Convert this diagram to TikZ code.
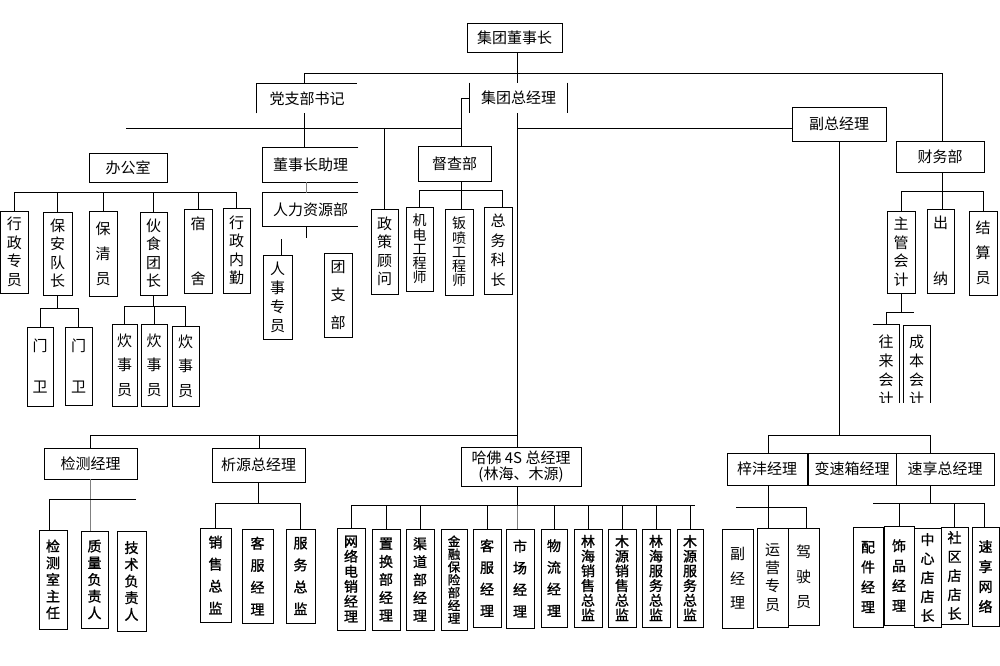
\documentclass[tikz,border=0pt]{standalone}
\usepackage{fontspec}
\setmainfont{Noto Sans CJK SC}
\newfontfamily\cjkb[FakeBold=1.2]{Noto Sans CJK SC}
\newcommand\fsz[2]{\fontsize{#1}{#2}\selectfont}
\newcommand\obox[7]{\node[#1, minimum width={#4-#2}, minimum height={#5-#3}] (#6) at ({(#2+#4)/2},{(#3+#5)/2}) {#7};}
\begin{document}
\begin{tikzpicture}[x=1pt,y=-1pt,line width=0.9pt,
  hb/.style={draw, inner sep=0pt, align=center, font=\fsz{15}{16}},
  nb/.style={inner sep=0pt, align=center, font=\fsz{15}{16}},
  vb/.style={draw, inner sep=0pt, align=center, font=\fsz{15}{#1}},
  vbs/.style={draw, inner sep=0pt, align=center, font=\fsz{14}{#1}},
  vbb/.style={draw, inner sep=0pt, align=center, font={\cjkb\fsz{14}{#1}}},
  vbbs/.style={draw, inner sep=0pt, align=center, font={\cjkb\fsz{12.5}{#1}}},
]
\fill[white] (0,0) rectangle (1000,665);
\useasboundingbox (0,0) rectangle (1000,665);

% ---------- top level ----------
\obox{hb}{467}{23}{562}{52}{dsz}{集团董事长}
\obox{nb}{257}{84}{357}{113}{dzb}{党支部书记}
\obox{nb}{470}{83}{567}{113}{zjl}{集团总经理}
\obox{hb}{792}{107}{886}{141}{fzjl}{副总经理}
\obox{hb}{896}{141}{984}{172}{cwb}{财务部}
\draw (dzb.south west) -- (dzb.north west) -- (dzb.north east);
\draw (zjl.north west) -- (zjl.south west);
\draw (zjl.north east) -- (zjl.south east);

% ---------- second level ----------
\obox{hb}{89}{153}{167}{182}{bgs}{办公室}
\obox{nb}{263}{148}{358}{182}{dszz}{董事长助理}
\obox{nb}{263}{193}{358}{226}{rlzy}{人力资源部}
\draw (dszz.north east) -- (dszz.north west) -- (dszz.south west) -- (dszz.south east);
\draw (rlzy.north east) -- (rlzy.north west) -- (rlzy.south west) -- (rlzy.south east);
\obox{hb}{418}{146}{491}{181}{dcb}{督查部}

% office children
\obox{vb=18.5}{0.8}{211}{28}{293}{xzzy}{行\\政\\专\\员}
\obox{vb=18.5}{43}{212}{72}{295}{badz}{保\\安\\队\\长}
\obox{vb=25}{89}{211}{117}{296}{bqy}{保\\清\\员}
\obox{vb=18.5}{140}{212}{167}{295}{hstz}{伙\\食\\团\\长}
\obox{vb=55}{184}{209}{212}{293}{ss}{宿\\舍}
\obox{vb=18.5}{223}{208}{250}{293}{xznq}{行\\政\\内\\勤}
\obox{vb=41}{27}{327}{53}{406}{mw1}{门\\卫}
\obox{vb=41}{65}{327}{92}{405}{mw2}{门\\卫}
\obox{vb=24.5}{112}{324}{137}{406}{cs1}{炊\\事\\员}
\obox{vb=24.5}{141}{324}{167}{406}{cs2}{炊\\事\\员}
\obox{vb=24.5}{172}{326}{199}{406}{cs3}{炊\\事\\员}

% HR / policy / supervision children
\obox{vb=19}{263}{255}{292}{339}{rszy}{人\\事\\专\\员}
\obox{vb=28}{324}{253}{352}{337}{tzb}{团\\支\\部}
\obox{vb=18.5}{371}{209}{398}{294}{zcgw}{政\\策\\顾\\问}
\obox{vbs=14.3}{406}{207}{433}{291}{jd}{机\\电\\工\\程\\师}
\obox{vbs=14.3}{445}{209}{473}{295}{bp}{钣\\喷\\工\\程\\师}
\obox{vb=19.5}{484}{207}{512}{294}{zw}{总\\务\\科\\长}

% finance children
\obox{vb=18.5}{887}{211}{915}{293}{zgkj}{主\\管\\会\\计}
\obox{vb=56}{927}{209}{954}{293}{cn}{出\\纳}
\obox{vb=25}{969}{211}{997}{295}{jsy}{结\\算\\员}
\begin{scope}
\clip (860,300) rectangle (940,402);
\obox{nb,font=\fsz{15}{19}}{873}{325}{899}{415}{wl}{往\\来\\会\\计}
\draw (wl.north west) -- (wl.north east) -- (wl.south east);
\obox{vb=19}{903}{325}{930}{415}{cbkj}{成\\本\\会\\计}
\end{scope}

% ---------- bottom level ----------
\obox{hb}{44}{448}{137}{479}{jc}{检测经理}
\obox{hb}{212}{448}{305}{482}{xy}{析源总经理}
\obox{hb}{461}{447}{581}{486}{hf}{哈佛 4S 总经理\\(林海、木源)}
\obox{hb}{727}{453}{807}{485}{zf}{梓沣经理}
\obox{hb}{808}{453}{896}{485}{bsx}{变速箱经理}
\obox{hb}{896}{453}{994}{485}{sx}{速享总经理}

\obox{vbb=16.7}{39}{530}{67}{629}{jcs}{检\\测\\室\\主\\任}
\obox{vbb=16.7}{81}{531}{108}{628}{zl}{质\\量\\负\\责\\人}
\obox{vbb=16.7}{117}{531}{146}{631}{js}{技\\术\\负\\责\\人}
\obox{vbb=22}{200}{528}{231}{622}{xszj}{销\\售\\总\\监}
\obox{vbb=22}{242}{529}{273}{623}{kf1}{客\\服\\经\\理}
\obox{vbb=22}{286}{529}{315}{623}{fwzj}{服\\务\\总\\监}

\obox{vbb=15}{337}{528}{365}{630}{wl6}{网\\络\\电\\销\\经\\理}
\obox{vbb=18}{372}{529}{400}{630}{zh}{置\\换\\部\\经\\理}
\obox{vbb=18}{406}{529}{434}{630}{qd}{渠\\道\\部\\经\\理}
\obox{vbbs=12.8}{441}{529}{467}{630}{jr}{金\\融\\保\\险\\部\\经\\理}
\obox{vbb=21.7}{473}{529}{501}{627}{kf2}{客\\服\\经\\理}
\obox{vbb=21.7}{506}{529}{534}{628}{sc}{市\\场\\经\\理}
\obox{vbb=21.7}{541}{529}{567}{627}{wlj}{物\\流\\经\\理}
\obox{vbb=14.7}{574}{529}{602}{627}{lhxs}{林\\海\\销\\售\\总\\监}
\obox{vbb=14.7}{608}{529}{636}{627}{myxs}{木\\源\\销\\售\\总\\监}
\obox{vbb=14.7}{642}{529}{670}{627}{lhfw}{林\\海\\服\\务\\总\\监}
\obox{vbb=14.7}{677}{529}{703}{627}{myfw}{木\\源\\服\\务\\总\\监}

\obox{vb=24.5}{722}{529}{753}{628}{fjl}{副\\经\\理}
\obox{vb=18.3}{757}{528}{788}{627}{yy}{运\\营\\专\\员}
\obox{vb=25}{788}{528}{819}{625}{jsy2}{驾\\驶\\员}
\obox{vbb=20}{853}{527}{883}{627}{pj}{配\\件\\经\\理}
\obox{vbb=20}{884}{526}{914}{625}{sp}{饰\\品\\经\\理}
\obox{vbb=19}{914}{528}{941}{627}{zxd}{中\\心\\店\\店\\长}
\obox{vbb=19}{941}{527}{968}{624}{sqd}{社\\区\\店\\店\\长}
\obox{vbb=20}{972}{527}{999}{626}{sxwl}{速\\享\\网\\络}

% ---------- connectors ----------
\coordinate (mx) at (517,0);
\coordinate (tbL) at (304,73);
\coordinate (tbR) at (942,73);
\draw (tbL) -- (tbR);
\draw (dsz.south -| mx) -- (zjl.north -| mx);
\draw (tbL) -- (tbL |- dzb.north);
\draw (tbR) -- (tbR |- cwb.north);
\draw (tbL |- dzb.south) -- (tbL |- dszz.north);
\coordinate (rx) at (306,238);
\draw[gray] (dszz.south -| rx) -- (rlzy.north -| rx);
\draw (rlzy.south -| rx) -- (rx);
\coordinate (rsa) at (281,239);
\draw (rsa) -- (rsa |- rszy.north);

\coordinate (mL) at (126,128);
\coordinate (dqx) at (461,128);
\draw (mL) -- (dqx);
\draw (zjl.west) -- (zjl.west -| dqx) -- (dcb.north -| dqx);
\draw (zcgw.north) -- (zcgw.north |- mL);
\draw (mx |- mL) -- (fzjl.west |- mL);
\draw (zjl.south -| mx) -- (hf.north -| mx);

\coordinate (dqb) at (461,190);
\coordinate (dqb1) at (419,190);
\coordinate (dqb3) at (502,190);
\draw (dcb.south -| dqb) -- (dqb);
\draw (dqb1) -- (dqb3);
\draw (dqb1) -- (dqb1 |- jd.north);
\draw (dqb) -- (dqb |- bp.north);
\draw (dqb3) -- (dqb3 |- zw.north);

\coordinate (ob) at (0,192);
\draw (xzzy.north |- ob) -- (xznq.north |- ob);
\foreach \n in {xzzy,badz,bqy,hstz,ss,xznq} \draw (\n.north |- ob) -- (\n.north);
\coordinate (bab) at (0,308);
\draw (badz.south) -- (badz.south |- bab);
\draw (mw1.north |- bab) -- (mw2.north |- bab);
\foreach \n in {mw1,mw2} \draw (\n.north |- bab) -- (\n.north);
\coordinate (hsb) at (0,306);
\draw (hstz.south) -- (hstz.south |- hsb);
\draw (cs1.north |- hsb) -- (cs3.north |- hsb);
\foreach \n in {cs1,cs2,cs3} \draw (\n.north |- hsb) -- (\n.north);

\coordinate (cwbb) at (942,191);
\draw (cwb.south -| cwbb) -- (cwbb);
\draw (zgkj.north |- cwbb) -- (jsy.north |- cwbb);
\foreach \n in {zgkj,jsy} \draw (\n.north |- cwbb) -- (\n.north);
\draw (cwbb) -- (cwbb |- cn.north);
\coordinate (zgb) at (0,312);
\coordinate (zgbR) at (914,312);
\draw (zgkj.south) -- (zgkj.south |- zgb);
\draw (wl.north |- zgb) -- (zgbR);
\draw (wl.north |- zgb) -- (wl.north);

\coordinate (lb) at (90,435);
\draw (lb) -- (mx |- lb);
\draw (lb) -- (lb |- jc.north);
\coordinate (xyv) at (259,435);
\draw (xyv) -- (xyv |- xy.north);
\draw[gray] (jc.south) -- (jc.south |- zl.north);
\coordinate (jb1) at (49,499);
\coordinate (jb2) at (136,499);
\draw (jb2) -- (jb1) -- (jb1 |- jcs.north);
\coordinate (xb) at (0,503);
\draw (xy.south) -- (xy.south |- xb);
\draw (xszj.north |- xb) -- (fwzj.north |- xb);
\foreach \n in {xszj,fwzj} \draw (\n.north |- xb) -- (\n.north);

\coordinate (hb) at (0,505);
\draw (hf.south -| mx) -- (mx |- hb);
\draw[gray] (mx |- hb) -- (mx |- sc.north);
\draw (wl6.north |- hb) -- (695,505);
\foreach \n in {wl6,zh,qd,kf2,wlj,lhxs,myxs,lhfw,myfw} \draw (\n.north |- hb) -- (\n.north);

\coordinate (rbL) at (768,435);
\coordinate (rbR) at (930,435);
\draw (fzjl.south) -- (fzjl.south |- rbL);
\draw (rbL) -- (rbR);
\draw (rbL) -- (rbL |- zf.north);
\draw (rbR) -- (rbR |- sx.north);
\draw (zf.south -| rbL) -- (rbL |- yy.north);
\coordinate (zb1) at (736,507);
\coordinate (zb2) at (806,507);
\draw (zb1) -- (zb2) -- (zb2 |- jsy2.north);
\coordinate (sb) at (930,503);
\draw (sx.south -| sb) -- (sb);
\coordinate (sb1) at (873,503);
\coordinate (sb2) at (984,503);
\draw (sb1) -- (sb2);
\foreach \n in {sp,sqd} \draw (\n.north |- sb) -- (\n.north);
\draw (sb2) -- (sb2 |- sxwl.north);
\end{tikzpicture}
\end{document}
